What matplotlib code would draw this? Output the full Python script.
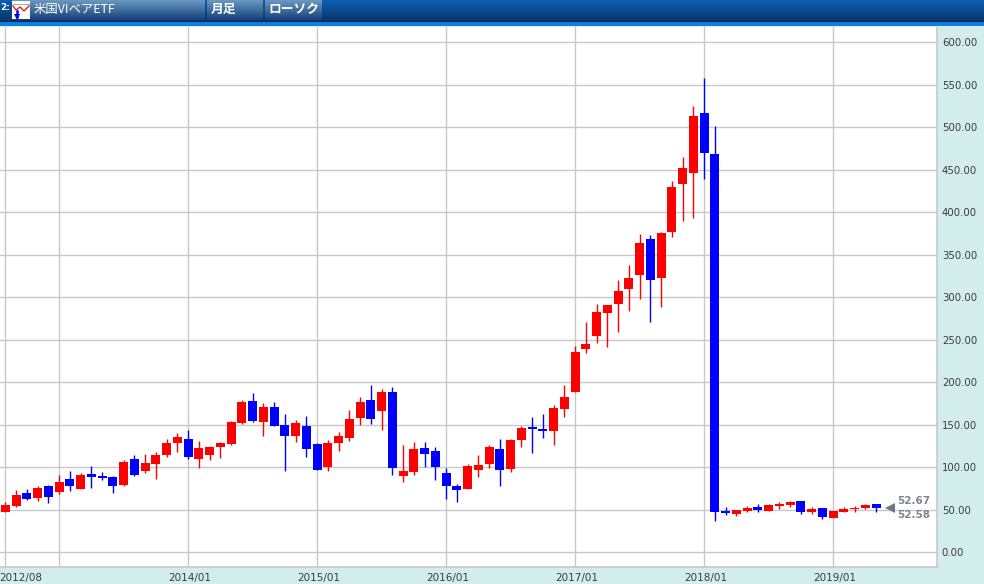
import numpy as np
import matplotlib
matplotlib.use('Agg')
import matplotlib.pyplot as plt
from matplotlib.transforms import ScaledTranslation

plt.rcParams['font.family'] = ['DejaVu Sans', 'Noto Sans CJK JP']

# monthly candles from 2012/08
opens = [47.4, 54.5, 69.8, 63.9, 78.0, 71.0, 86.2, 74.5, 92.1, 89.8, 88.6, 79.2, 109.8, 95.6,
         103.9, 114.5, 128.6, 133.3, 109.8, 114.5, 123.9, 127.4, 151.8, 178.0, 153.3, 171.0,
         149.8, 136.9, 148.6, 127.4, 100.4, 128.6, 134.5, 158.0, 179.2, 166.3, 188.6, 89.8,
         94.5, 122.7, 119.2, 93.3, 78.0, 74.5, 96.8, 103.9, 121.5, 98.0, 132.1, 147.4, 145.0,
         142.7, 168.6, 188.6, 239.2, 254.5, 281.5, 292.1, 309.7, 326.2, 368.6, 322.7, 376.8,
         433.3, 446.2, 516.8, 468.6, 48.6, 45.1, 48.6, 53.3, 48.6, 54.5, 55.7, 60.4, 47.4,
         52.2, 40.4, 47.4, 50.6, 52.2, 56.9]
closes = [55.6, 67.4, 62.7, 75.6, 65.0, 82.7, 78.0, 90.9, 88.6, 87.4, 78.0, 106.2, 90.9, 105.0,
          114.5, 128.6, 135.6, 112.1, 122.7, 123.9, 128.6, 153.3, 176.9, 154.5, 171.0, 148.6,
          136.9, 152.1, 121.6, 96.9, 128.6, 136.9, 156.9, 176.9, 156.9, 188.6, 99.2, 95.7,
          121.6, 115.7, 100.4, 78.0, 73.3, 101.5, 102.7, 123.9, 96.8, 132.1, 146.2, 145.0, 142.7,
          169.7, 182.7, 235.6, 245.0, 282.7, 290.9, 307.4, 322.7, 363.9, 320.3, 375.7, 429.8,
          452.1, 513.3, 469.8, 47.4, 46.3, 49.8, 52.2, 49.8, 55.7, 56.9, 59.2, 47.4, 51.0,
          41.6, 48.6, 51.0, 52.2, 55.7, 52.2]
highs = [59.2, 72.9, 74.1, 77.6, 79.2, 90.5, 95.6, 92.9, 101.5, 94.5, 89.8, 108.6, 114.5, 115.6,
         118.0, 133.3, 140.3, 143.9, 130.9, 125.0, 129.8, 154.5, 179.2, 187.0, 175.7, 176.5,
         162.7, 155.7, 160.4, 128.6, 132.1, 141.6, 167.4, 182.7, 196.9, 192.1, 194.5, 126.3,
         129.8, 129.8, 123.9, 99.2, 80.4, 103.9, 114.5, 126.2, 133.3, 133.3, 148.6, 159.2, 162.7,
         173.3, 196.8, 242.7, 270.9, 292.1, 290.9, 320.3, 337.6, 374.5, 373.3, 376.8, 436.8,
         465.0, 525.0, 558.0, 501.5, 53.0, 49.8, 54.5, 56.9, 56.9, 59.2, 60.4, 60.4, 53.3,
         52.2, 48.6, 53.3, 54.5, 56.9, 56.9]
lows = [47.0, 53.3, 61.5, 60.7, 58.4, 69.0, 71.7, 74.1, 76.0, 85.4, 70.2, 78.4, 89.8, 93.3,
        86.6, 112.1, 118.4, 109.8, 99.6, 108.6, 111.0, 126.2, 151.0, 153.3, 137.2, 148.6,
        96.1, 130.2, 112.5, 96.9, 96.1, 119.2, 131.4, 150.2, 151.4, 144.3, 91.4, 83.1,
        91.0, 100.4, 85.5, 63.1, 59.6, 74.5, 88.9, 99.2, 78.0, 94.5, 124.3, 117.2, 134.8,
        126.6, 159.6, 188.6, 234.8, 246.6, 241.1, 259.6, 283.5, 298.4, 271.3, 289.0, 371.3,
        390.1, 392.9, 438.8, 37.3, 43.9, 43.1, 47.4, 47.4, 48.2, 51.0, 53.7, 45.1, 45.1,
        39.2, 40.4, 47.4, 47.8, 51.0, 47.8]

month_ticks = [0, 5, 17, 29, 41, 53, 65, 77]
month_labels = ['2012/08', '', '2014/01', '2015/01', '2016/01', '2017/01', '2018/01', '2019/01']
price_ticks = [0, 50, 100, 150, 200, 250, 300, 350, 400, 450, 500, 550, 600]
last_prices = ['52.67', '52.58']
tab_labels = ['米国VIベアETF', '月足', 'ローソク']

W, H = 984, 584
GRID = '#c8c8c8'

fig = plt.figure(figsize=(W / 100, H / 100), dpi=100, facecolor='#d3eded')
ax = fig.add_axes([0, (H - 567) / H, 937 / W, 540 / H], facecolor='white')

x = np.arange(len(opens))
opens = np.array(opens)
closes = np.array(closes)
up = closes >= opens
colors = np.where(up, '#ff0000', '#0000ff')

ax.set_axisbelow(True)
ax.grid(True, color=GRID, lw=1.0)
ax.vlines(x, lows, highs, colors=colors, lw=1.0, zorder=3)
ax.bar(x, np.abs(closes - opens), bottom=np.minimum(opens, closes), width=0.84,
       color=colors, lw=0, zorder=4)

ax.set_xlim(-0.5, 86.66)
ax.set_ylim(-17.3, 618)
ax.set_xticks(month_ticks, month_labels)
ax.set_yticks(price_ticks, ['%.2f' % p for p in price_ticks])
ax.yaxis.tick_right()
ax.tick_params(length=0, labelsize=7.3, labelcolor='#3c3c3c')
ax.tick_params(axis='y', pad=3.5)
ax.tick_params(axis='x', pad=4, labelsize=7.5)
for i, lab in enumerate(ax.xaxis.get_majorticklabels()):
    shift = 15.5 if i == 0 else 1.5
    lab.set_transform(lab.get_transform() + ScaledTranslation(shift / 100, 0, fig.dpi_scale_trans))
for s in ['top', 'left']:
    ax.spines[s].set_visible(False)
for s in ['right', 'bottom']:
    ax.spines[s].set_color(GRID)
    ax.spines[s].set_linewidth(1.2)

# last price marker and labels
ax.plot([82.3], [52.6], marker='<', ms=7.5, color='#6f7984', mew=0, zorder=5)
ax.annotate(last_prices[0], (82.95, 52.6), xytext=(0, 5), textcoords='offset points',
            fontsize=7.5, fontweight='bold', color='#7d8690', va='center')
ax.annotate(last_prices[1], (82.95, 52.6), xytext=(0, -5), textcoords='offset points',
            fontsize=7.5, fontweight='bold', color='#7d8690', va='center')

# header bar
hdr = fig.add_axes([0, 0, 1, 1], facecolor='none')
hdr.axis('off')


def gradient(x0, x1, y0, y1, c0, c1):
    c0 = np.array(matplotlib.colors.to_rgb(c0))
    c1 = np.array(matplotlib.colors.to_rgb(c1))
    t = np.linspace(0, 1, 32)[:, None, None]
    hdr.imshow(c0 + (c1 - c0) * t, extent=(x0, x1, y1, y0), aspect='auto', interpolation='bilinear')


gradient(0, W, 0, 21, '#0c5fb2', '#0a3468')
hdr.fill_between([0, W], 21, 22, color='#06264c', lw=0)
hdr.fill_between([0, W], 22, 25.5, color='#0c7fe4', lw=0)
hdr.fill_between([0, W], 25.5, 27, color='#d3eded', lw=0)
for x0, x1 in [(12, 205), (207, 263), (265, 322)]:
    gradient(x0, x1, 0, 20, '#6a98c0', '#14427a')

hdr.fill_between([12, 30], 1, 19, color='white', lw=0)
hdr.plot([13, 16, 20, 24, 29], [6, 10, 7, 11, 6], color='#e02020', lw=1.0)
hdr.plot([13, 29], [4, 4], color='#999999', lw=0.6)
hdr.plot([17, 17], [11, 17], color='#0000ff', lw=1.8)
hdr.plot([17], [17], marker='v', ms=4, color='#0000ff', mew=0)

hdr.text(0, 7, '2:', color='white', fontsize=6.5, fontweight='bold', va='center', ha='left')
hdr.text(34, 9.5, tab_labels[0], color='white', fontsize=8.9, va='center',
         family=['Noto Sans CJK JP', 'DejaVu Sans'])
hdr.text(211, 9.5, tab_labels[1], color='white', fontsize=9.2, fontweight='bold', va='center',
         family=['Noto Sans CJK JP', 'DejaVu Sans'])
hdr.text(268, 9.5, tab_labels[2], color='white', fontsize=9.2, fontweight='bold', va='center',
         family=['Noto Sans CJK JP', 'DejaVu Sans'])
hdr.set_xlim(0, W)
hdr.set_ylim(H, 0)

fig.savefig('out.png', dpi=100, facecolor=fig.get_facecolor())
